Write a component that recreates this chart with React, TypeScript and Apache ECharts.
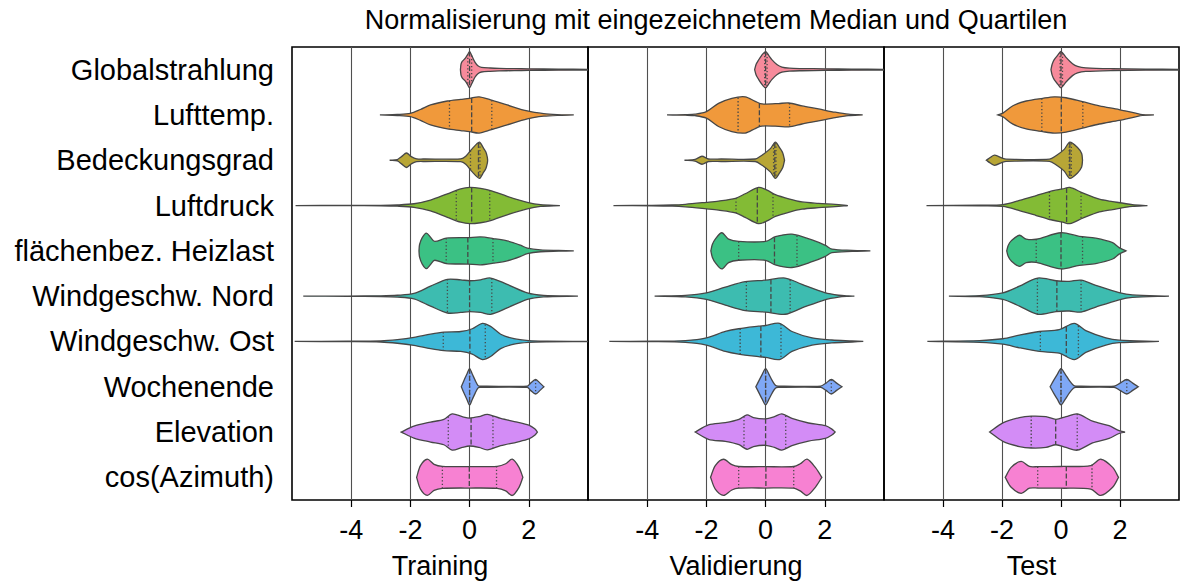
import React, { useEffect, useRef } from 'react';
import * as echarts from 'echarts';

const categories = [
  'Globalstrahlung',
  'Lufttemp.',
  'Bedeckungsgrad',
  'Luftdruck',
  'flächenbez. Heizlast',
  'Windgeschw. Nord',
  'Windgeschw. Ost',
  'Wochenende',
  'Elevation',
  'cos(Azimuth)',
];

const panelNames = ['Training', 'Validierung', 'Test'];

const colors = [
  '#f78a9b', '#f0993b', '#b8a636', '#83bb35', '#3bc184',
  '#3dbcb0', '#3db8d7', '#7fa8f6', '#d38cf6', '#f781d2',
];

const xTicks = [-4, -2, 0, 2];

// violin outlines: [value, relative half-width]
const trainShapes: number[][][] = [
  [[-0.31,0],[-0.29,0.3],[-0.25,0.45],[-0.15,0.62],[-0.06,0.85],[0,1],[0.08,0.75],[0.18,0.42],[0.28,0.22],[0.4,0.13],[0.7,0.09],[1.0,0.07],[1.5,0.055],[2.0,0.045],[3.0,0.03],[4.0,0.02],[4.5,0]],
  [[-3.03,0],[-2.44,0.03],[-2.0,0.09],[-1.66,0.3],[-1.32,0.55],[-0.75,0.77],[-0.3,0.86],[0,0.92],[0.32,1],[0.71,0.83],[1.27,0.55],[1.95,0.22],[2.5,0.07],[2.96,0.02],[3.52,0]],
  [[-2.7,0],[-2.44,0.04],[-2.3,0.2],[-2.13,0.4],[-1.97,0.2],[-1.79,0.08],[-1.5,0.07],[-0.3,0.08],[-0.13,0.22],[0.09,0.64],[0.33,1],[0.45,0.72],[0.55,0.45],[0.6,0.15],[0.61,0]],
  [[-5.88,0],[-4.13,0.006],[-3.0,0.015],[-2.44,0.035],[-1.88,0.1],[-1.32,0.3],[-0.75,0.65],[-0.3,0.92],[0,1],[0.37,0.95],[0.71,0.83],[1.27,0.51],[1.95,0.18],[2.4,0.05],[3.05,0]],
  [[-1.71,0],[-1.69,0.35],[-1.6,0.73],[-1.46,0.98],[-1.32,0.75],[-1.18,0.52],[-0.79,0.7],[-0.06,0.73],[0.37,0.77],[0.8,0.68],[1.27,0.55],[1.72,0.31],[1.95,0.15],[2.4,0.05],[3.0,0.02],[3.52,0]],
  [[-5.62,0],[-4.13,0.006],[-3.0,0.02],[-2.44,0.05],[-1.88,0.15],[-1.32,0.55],[-0.75,0.93],[-0.3,0.9],[0,0.85],[0.37,0.9],[0.71,1],[1.27,0.65],[1.95,0.18],[2.5,0.04],[3.66,0]],
  [[-5.91,0],[-4.13,0.01],[-3.0,0.03],[-2.44,0.1],[-1.88,0.22],[-1.32,0.4],[-0.87,0.51],[-0.3,0.55],[0.09,0.7],[0.43,1],[0.71,0.83],[1.05,0.4],[1.5,0.15],[2.0,0.05],[2.62,0.02],[4.3,0]],
  [[-0.28,0],[-0.19,0.35],[-0.09,0.7],[0,1],[0.09,0.7],[0.19,0.35],[0.28,0.08],[0.34,0.035],[1.95,0.035],[2.06,0.2],[2.23,0.4],[2.38,0.2],[2.51,0]],
  [[-2.31,0],[-1.88,0.33],[-1.32,0.55],[-0.87,0.7],[-0.59,1],[-0.25,0.85],[0,0.77],[0.32,0.85],[0.6,0.98],[1.05,0.75],[1.61,0.55],[2.0,0.38],[2.2,0.18],[2.29,0]],
  [[-1.79,0],[-1.66,0.65],[-1.43,1],[-1.2,0.72],[-0.92,0.61],[0,0.59],[0.93,0.61],[1.22,0.75],[1.44,1],[1.67,0.55],[1.8,0]],
];

const valShapes: number[][][] = [
  [[-0.37,0],[-0.32,0.3],[-0.25,0.5],[-0.15,0.75],[0,1],[0.12,0.75],[0.21,0.55],[0.38,0.28],[0.55,0.14],[0.8,0.08],[1.23,0.06],[2.0,0.045],[2.9,0.03],[4.0,0.02],[4.5,0]],
  [[-3.33,0],[-2.71,0.015],[-2.38,0.04],[-2.0,0.18],[-1.59,0.64],[-1.14,0.92],[-0.69,1],[-0.35,0.75],[-0.18,0.63],[0,0.6],[0.44,0.63],[0.78,0.66],[1.23,0.5],[1.79,0.33],[2.35,0.15],[2.8,0.04],[3.28,0]],
  [[-2.74,0],[-2.38,0.05],[-2.15,0.22],[-1.93,0.07],[-1.5,0.07],[-0.35,0.07],[-0.12,0.28],[0.16,0.64],[0.33,1],[0.47,0.7],[0.58,0.4],[0.64,0]],
  [[-5.14,0],[-3.84,0.01],[-3.16,0.03],[-2.71,0.07],[-2.0,0.18],[-1.59,0.25],[-1.02,0.4],[-0.69,0.65],[-0.24,1],[0.05,0.85],[0.33,0.6],[0.78,0.37],[1.23,0.2],[1.79,0.12],[2.35,0.06],[2.78,0]],
  [[-1.85,0],[-1.8,0.35],[-1.7,0.65],[-1.48,1],[-1.25,0.65],[-0.91,0.52],[0,0.52],[0.33,0.78],[0.89,0.92],[1.57,0.6],[2.02,0.3],[2.24,0.1],[2.92,0.03],[3.54,0]],
  [[-3.75,0],[-2.71,0.04],[-2.0,0.18],[-1.36,0.5],[-0.69,0.8],[0,0.88],[0.66,1],[1.23,0.65],[2.0,0.2],[2.47,0.05],[2.8,0.01],[3.0,0]],
  [[-5.28,0],[-3.84,0.01],[-2.71,0.05],[-2.0,0.2],[-1.36,0.55],[-0.91,0.7],[-0.24,0.84],[0,0.88],[0.47,1],[0.89,0.55],[1.57,0.2],[2.24,0.08],[2.92,0.03],[3.3,0]],
  [[-0.33,0],[-0.22,0.35],[-0.11,0.7],[0,1],[0.11,0.7],[0.22,0.35],[0.33,0.08],[0.42,0.035],[1.86,0.035],[2.04,0.2],[2.22,0.4],[2.4,0.2],[2.58,0]],
  [[-2.38,0],[-1.93,0.4],[-1.36,0.52],[-0.9,0.7],[-0.63,0.95],[-0.41,0.8],[0,0.73],[0.3,0.85],[0.55,1],[0.89,0.75],[1.45,0.5],[2.02,0.35],[2.25,0.15],[2.35,0]],
  [[-1.86,0],[-1.7,0.65],[-1.42,1],[-1.14,0.7],[-0.91,0.6],[0,0.59],[0.95,0.6],[1.17,0.75],[1.4,1],[1.68,0.55],[1.9,0]],
];

const testShapes: number[][][] = [
  [[-0.34,0],[-0.3,0.3],[-0.23,0.55],[-0.11,0.8],[0,1],[0.17,0.68],[0.39,0.33],[0.56,0.18],[0.84,0.1],[1.75,0.05],[2.87,0.03],[4.0,0.02],[4.5,0]],
  [[-2.14,0],[-1.97,0.1],[-1.63,0.51],[-1.18,0.77],[-0.62,0.92],[-0.23,1],[0.17,0.95],[0.73,0.73],[1.3,0.5],[1.97,0.3],[2.53,0.1],[2.76,0.02],[3.15,0]],
  [[-2.53,0],[-2.4,0.15],[-2.25,0.28],[-1.97,0.1],[-1.86,0.06],[-0.39,0.06],[-0.17,0.25],[0.11,0.6],[0.3,1],[0.56,0.7],[0.7,0.37],[0.73,0]],
  [[-4.56,0],[-2.76,0.02],[-1.97,0.05],[-1.41,0.28],[-0.84,0.55],[-0.39,0.77],[0.06,0.92],[0.3,1],[0.73,0.7],[1.3,0.35],[1.75,0.22],[2.42,0.05],[2.93,0]],
  [[-1.84,0],[-1.79,0.3],[-1.69,0.55],[-1.41,0.86],[-1.18,0.65],[-0.84,0.64],[0,1],[0.62,0.8],[1.18,0.7],[1.75,0.45],[1.97,0.18],[2.2,0]],
  [[-3.8,0],[-2.76,0.03],[-1.97,0.18],[-1.41,0.55],[-0.79,1],[-0.17,0.85],[0.28,0.82],[0.68,0.88],[1.18,0.6],[1.97,0.2],[2.42,0.07],[3.66,0]],
  [[-4.53,0],[-2.76,0.05],[-1.97,0.15],[-1.41,0.35],[-0.73,0.55],[-0.06,0.65],[0.45,1],[0.84,0.6],[1.52,0.2],[1.97,0.07],[3.32,0]],
  [[-0.37,0],[-0.25,0.35],[-0.12,0.7],[0,1],[0.14,0.7],[0.28,0.35],[0.42,0.08],[0.5,0.035],[1.8,0.035],[2.0,0.2],[2.23,0.4],[2.43,0.2],[2.62,0]],
  [[-2.42,0],[-1.97,0.51],[-1.41,0.8],[-1.01,0.88],[-0.51,0.85],[-0.17,0.7],[0.17,0.85],[0.56,1],[1.07,0.6],[1.63,0.35],[1.97,0.08],[2.17,0]],
  [[-1.89,0],[-1.69,0.55],[-1.35,0.88],[-1.07,0.6],[-0.79,0.59],[0,0.6],[1.01,0.65],[1.35,1],[1.75,0.55],[1.95,0]],
];

// [Q1, median, Q3]
const trainQuart = [
  [-0.06, 0.0, 0.07], [-0.68, 0.07, 0.75], [0.03, 0.3, 0.35], [-0.45, 0.07, 0.68], [-0.79, -0.06, 0.79],
  [-0.75, 0.0, 0.75], [-0.89, 0.01, 0.53], [0.0, 0.0, 2.23], [-0.72, 0.05, 0.79], [-0.92, -0.01, 0.91],
];
const valQuart = [
  [-0.03, 0.0, 0.05], [-0.93, -0.21, 0.81], [0.27, 0.31, 0.35], [-1.0, -0.28, 0.25], [-0.91, 0.3, 1.06],
  [-0.65, 0.18, 0.83], [-0.86, -0.16, 0.52], [0.0, 0.0, 2.22], [-0.73, 0.0, 0.68], [-0.91, 0.01, 0.95],
];
const testQuart = [
  [-0.03, 0.0, 0.05], [-0.65, 0.01, 0.74], [0.28, 0.3, 0.35], [-0.39, 0.19, 0.68], [-0.84, 0.0, 0.73],
  [-0.8, -0.14, 0.68], [-0.7, 0.18, 0.59], [0.0, 0.0, 2.23], [-1.01, -0.18, 0.55], [-0.79, 0.18, 1.05],
];

const FONT = 'Liberation Sans, Arial, sans-serif';
const LINE = '#474747';

function widthAt(prof: number[][], x: number): number {
  for (let i = 0; i < prof.length - 1; i++) {
    const [x0, w0] = prof[i];
    const [x1, w1] = prof[i + 1];
    if (x >= x0 && x <= x1) {
      return x1 === x0 ? w0 : w0 + ((w1 - w0) * (x - x0)) / (x1 - x0);
    }
  }
  return 0;
}

export default function App() {
  const ref = useRef<HTMLDivElement>(null);
  useEffect(() => {
    document.body.style.margin = '0';
    const chart = echarts.init(ref.current!, null, { renderer: 'svg' });
    const panels = [
      { shapes: trainShapes, quart: trainQuart },
      { shapes: valShapes, quart: valQuart },
      { shapes: testShapes, quart: testQuart },
    ];
    const lefts = [292, 588, 884];
    const widths = [296, 296, 295];

    const option: any = {
      animation: false,
      backgroundColor: '#fff',
      textStyle: { fontFamily: FONT },
      grid: panels.map((_, i) => ({
        left: lefts[i],
        top: 47,
        width: widths[i],
        height: 454,
        show: true,
        borderColor: '#000',
        borderWidth: 1.6,
        backgroundColor: 'transparent',
      })),
      xAxis: panels.map((_, i) => ({
        type: 'value',
        gridIndex: i,
        min: -6,
        max: 4,
        interval: 2,
        name: panelNames[i],
        nameLocation: 'middle',
        nameGap: 52,
        nameTextStyle: { fontSize: 27, color: '#000', fontFamily: FONT },
        axisLine: { show: false },
        axisTick: { show: true, length: 7, lineStyle: { color: '#000', width: 1.2 }, customValues: xTicks },
        axisLabel: {
          fontSize: 27,
          color: '#000',
          margin: 16,
          fontFamily: FONT,
          customValues: xTicks,
          formatter: (v: number) => (xTicks.indexOf(v) >= 0 ? String(v) : ''),
        },
        splitLine: { show: true, lineStyle: { color: '#505050', width: 1.1 } },
      })),
      yAxis: panels.map((_, i) => ({
        type: 'category',
        gridIndex: i,
        data: categories,
        inverse: true,
        boundaryGap: true,
        axisLine: { show: false },
        axisTick: { show: true, alignWithLabel: true, length: 7, lineStyle: { color: '#000', width: 1.2 } },
        axisLabel: { show: i === 0, fontSize: 29, color: '#000', margin: 18, fontFamily: FONT, interval: 0 },
        splitLine: { show: false },
      })),
      graphic: [
        {
          type: 'text',
          x: 716,
          y: 20,
          style: {
            text: 'Normalisierung mit eingezeichnetem Median und Quartilen',
            fontSize: 27,
            fontFamily: FONT,
            fill: '#000',
            textAlign: 'center',
            textVerticalAlign: 'middle',
          },
        },
      ],
      series: panels.map((p, i) => ({
        type: 'custom',
        xAxisIndex: i,
        yAxisIndex: i,
        clip: true,
        data: categories.map((_, k) => [0, k]),
        encode: { x: 0, y: 1 },
        renderItem: (params: any, api: any) => {
          const ci = params.dataIndex as number;
          const prof = p.shapes[ci];
          const quart = p.quart[ci];
          if (!prof || !quart) return { type: 'group', children: [] };
          const c0 = api.coord([0, ci]);
          const cy = c0[1];
          const sz = api.size([0, 1]);
          const band = sz && sz[1] ? sz[1] : 45.4;
          const hw = band * 0.4;
          const pts: number[][] = [];
          for (const [x, w] of prof) pts.push([api.coord([x, ci])[0], cy - w * hw]);
          for (let k = prof.length - 1; k >= 0; k--) {
            const [x, w] = prof[k];
            pts.push([api.coord([x, ci])[0], cy + w * hw]);
          }
          const children: any[] = [
            {
              type: 'polygon',
              shape: { points: pts, smooth: 0.3 },
              style: { fill: colors[ci], stroke: LINE, lineWidth: 1.3 },
            },
          ];
          quart.forEach((q: number, k: number) => {
            const w = widthAt(prof, q) * hw;
            const x = api.coord([q, ci])[0];
            children.push({
              type: 'line',
              shape: { x1: x, y1: cy - w, x2: x, y2: cy + w },
              style: { stroke: LINE, lineWidth: 1.3, lineDash: k === 1 ? [5, 2.2] : [1.3, 2.2] },
            });
          });
          return { type: 'group', children };
        },
      })),
    };
    chart.setOption(option);
    return () => chart.dispose();
  }, []);
  return <div ref={ref} style={{ width: 1180, height: 584 }} />;
}
